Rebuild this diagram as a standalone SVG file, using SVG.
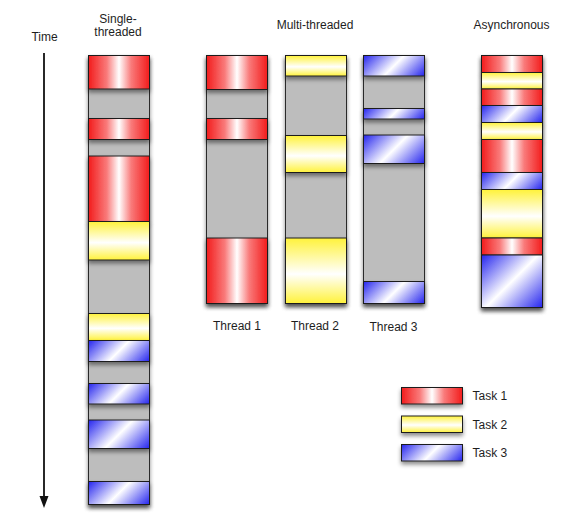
<svg xmlns="http://www.w3.org/2000/svg" width="588" height="520" viewBox="0 0 588 520">
<style>
text{font-family:"Liberation Sans",Arial,sans-serif;font-size:12px;fill:#1e1e1e}
.col{fill:#bdbdbd;stroke:#2a2a2a;stroke-width:1;filter:url(#sh)}
.seg{stroke:#1e1e1e;stroke-width:1;filter:url(#sh)}
.r{fill:url(#red)}
.y{fill:url(#yel)}
</style>
<defs>
<filter id="sh" filterUnits="userSpaceOnUse" x="0" y="0" width="588" height="520">
<feDropShadow dx="0" dy="3" stdDeviation="2" flood-color="#000" flood-opacity="0.45"/>
</filter>
<linearGradient id="red" x1="0" y1="0" x2="1" y2="0">
<stop offset="0" stop-color="#f21c1c"/><stop offset="0.3" stop-color="#f97a7a"/><stop offset="0.5" stop-color="#ffffff"/><stop offset="0.7" stop-color="#f97a7a"/><stop offset="1" stop-color="#f21c1c"/>
</linearGradient>
<linearGradient id="yel" x1="0" y1="0" x2="0" y2="1">
<stop offset="0" stop-color="#fff23a"/><stop offset="0.55" stop-color="#ffffff"/><stop offset="1" stop-color="#fff23a"/>
</linearGradient>
<linearGradient id="blue">
<stop offset="0" stop-color="#2424ee"/><stop offset="0.5" stop-color="#ffffff"/><stop offset="1" stop-color="#2424ee"/>
</linearGradient>
<linearGradient id="bs1" href="#blue" gradientUnits="userSpaceOnUse" x1="88.5" y1="340.5" x2="129.5" y2="381.5"/>
<linearGradient id="bs2" href="#blue" gradientUnits="userSpaceOnUse" x1="88.5" y1="383.5" x2="129.25" y2="424.25"/>
<linearGradient id="bs3" href="#blue" gradientUnits="userSpaceOnUse" x1="88.5" y1="420" x2="133.25" y2="464.75"/>
<linearGradient id="bs4" href="#blue" gradientUnits="userSpaceOnUse" x1="88.5" y1="481.5" x2="130.5" y2="523.5"/>
<linearGradient id="bt1" href="#blue" gradientUnits="userSpaceOnUse" x1="363.5" y1="55.5" x2="404.25" y2="96.25"/>
<linearGradient id="bt2" href="#blue" gradientUnits="userSpaceOnUse" x1="363.5" y1="108.5" x2="399.25" y2="144.25"/>
<linearGradient id="bt3" href="#blue" gradientUnits="userSpaceOnUse" x1="363.5" y1="135" x2="408.25" y2="179.75"/>
<linearGradient id="bt4" href="#blue" gradientUnits="userSpaceOnUse" x1="363.5" y1="281.5" x2="405" y2="323"/>
<linearGradient id="ba1" href="#blue" gradientUnits="userSpaceOnUse" x1="481.5" y1="105.5" x2="520.5" y2="144.5"/>
<linearGradient id="ba2" href="#blue" gradientUnits="userSpaceOnUse" x1="481.5" y1="172.5" x2="520.5" y2="211.5"/>
<linearGradient id="ba3" href="#blue" gradientUnits="userSpaceOnUse" x1="481.5" y1="255" x2="538.25" y2="311.75"/>
<linearGradient id="bl" href="#blue" gradientUnits="userSpaceOnUse" x1="401.5" y1="444.5" x2="440.25" y2="483.25"/>
</defs>

<g id="time-axis">
<text x="44.5" y="41" text-anchor="middle">Time</text>
<line x1="44" y1="53" x2="44" y2="498" stroke="#111" stroke-width="1.8"/>
<polygon points="39.5,496 48.5,496 44,508" fill="#111"/>
</g>

<g id="titles">
<text x="118" y="23" text-anchor="middle">Single-</text>
<text x="118" y="36" text-anchor="middle">threaded</text>
<text x="315" y="29" text-anchor="middle">Multi-threaded</text>
<text x="511.5" y="29" text-anchor="middle">Asynchronous</text>
</g>

<g id="single-threaded">
<rect class="col" x="88.5" y="55.5" width="61" height="449"/>
<rect class="seg r" x="88.5" y="55.5" width="61" height="33.5"/>
<rect class="seg r" x="88.5" y="118.5" width="61" height="21"/>
<rect class="seg r" x="88.5" y="156" width="61" height="65.5"/>
<rect class="seg y" x="88.5" y="221.5" width="61" height="38.5"/>
<rect class="seg y" x="88.5" y="313.5" width="61" height="27"/>
<rect class="seg" fill="url(#bs1)" x="88.5" y="340.5" width="61" height="21"/>
<rect class="seg" fill="url(#bs2)" x="88.5" y="383.5" width="61" height="20.5"/>
<rect class="seg" fill="url(#bs3)" x="88.5" y="420" width="61" height="28.5"/>
<rect class="seg" fill="url(#bs4)" x="88.5" y="481.5" width="61" height="23"/>
</g>

<g id="thread-1">
<rect class="col" x="206.5" y="55.5" width="61" height="248"/>
<rect class="seg r" x="206.5" y="55.5" width="61" height="34"/>
<rect class="seg r" x="206.5" y="118.5" width="61" height="21"/>
<rect class="seg r" x="206.5" y="238" width="61" height="65.5"/>
<text x="237" y="330" text-anchor="middle">Thread 1</text>
</g>

<g id="thread-2">
<rect class="col" x="285.5" y="55.5" width="61" height="248"/>
<rect class="seg y" x="285.5" y="55.5" width="61" height="20.5"/>
<rect class="seg y" x="285.5" y="135.5" width="61" height="37"/>
<rect class="seg y" x="285.5" y="238" width="61" height="65.5"/>
<text x="315" y="330" text-anchor="middle">Thread 2</text>
</g>

<g id="thread-3">
<rect class="col" x="363.5" y="55.5" width="61" height="248"/>
<rect class="seg" fill="url(#bt1)" x="363.5" y="55.5" width="61" height="20.5"/>
<rect class="seg" fill="url(#bt2)" x="363.5" y="108.5" width="61" height="10.5"/>
<rect class="seg" fill="url(#bt3)" x="363.5" y="135" width="61" height="28.5"/>
<rect class="seg" fill="url(#bt4)" x="363.5" y="281.5" width="61" height="22"/>
<text x="393.5" y="331" text-anchor="middle">Thread 3</text>
</g>

<g id="asynchronous">
<rect class="col" x="481.5" y="55.5" width="61" height="252"/>
<rect class="seg r" x="481.5" y="55.5" width="61" height="17"/>
<rect class="seg y" x="481.5" y="72.5" width="61" height="16.5"/>
<rect class="seg r" x="481.5" y="89" width="61" height="16.5"/>
<rect class="seg" fill="url(#ba1)" x="481.5" y="105.5" width="61" height="17"/>
<rect class="seg y" x="481.5" y="122.5" width="61" height="17"/>
<rect class="seg r" x="481.5" y="139.5" width="61" height="33"/>
<rect class="seg" fill="url(#ba2)" x="481.5" y="172.5" width="61" height="17"/>
<rect class="seg y" x="481.5" y="189.5" width="61" height="48.5"/>
<rect class="seg r" x="481.5" y="238" width="61" height="17"/>
<rect class="seg" fill="url(#ba3)" x="481.5" y="255" width="61" height="52.5"/>
</g>

<g id="legend">
<g id="legend-task1">
<rect class="seg r" x="401.5" y="387.5" width="61" height="16.5"/>
<text x="472.5" y="400">Task 1</text>
</g>
<g id="legend-task2">
<rect class="seg y" x="401.5" y="416" width="61" height="16.5"/>
<text x="472.5" y="428.5">Task 2</text>
</g>
<g id="legend-task3">
<rect class="seg" fill="url(#bl)" x="401.5" y="444.5" width="61" height="16.5"/>
<text x="472.5" y="457">Task 3</text>
</g>
</g>
</svg>
